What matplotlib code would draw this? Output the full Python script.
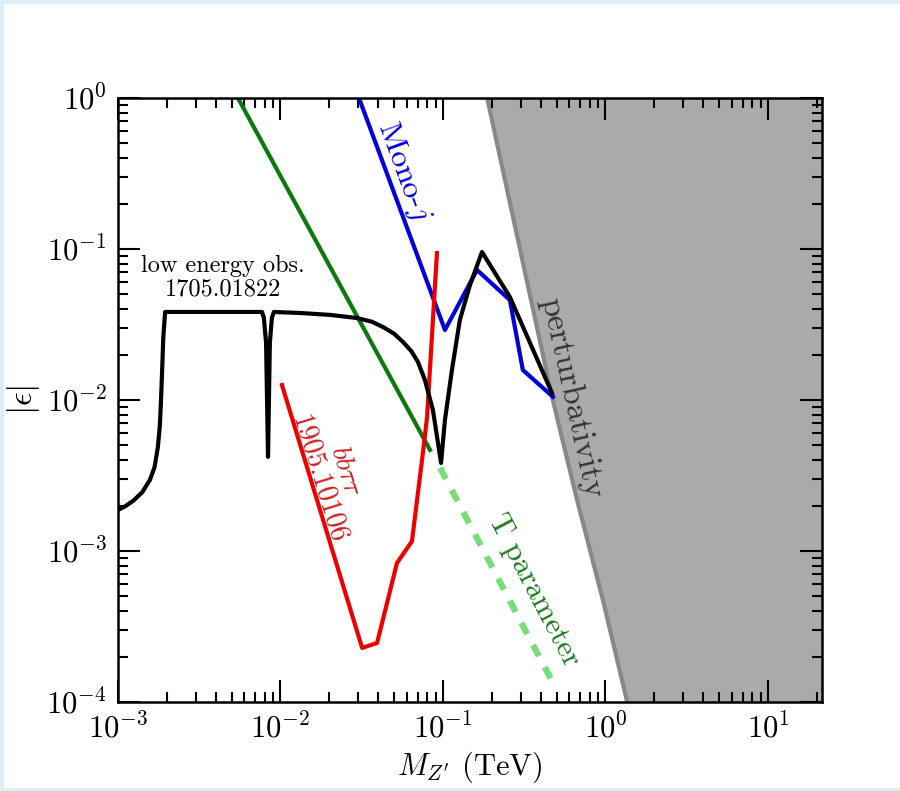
import numpy as np
import matplotlib
matplotlib.use("Agg")
from matplotlib import pyplot as plt
from matplotlib.patches import Rectangle
from matplotlib.ticker import LogLocator, NullFormatter

plt.rcParams['font.family'] = 'serif'
plt.rcParams['font.serif'] = ['cmr10', 'DejaVu Serif']
plt.rcParams['mathtext.fontset'] = 'cm'
plt.rcParams['axes.formatter.use_mathtext'] = True

# low energy observables (1705.01822)
low_mass = [0.001, 0.00111, 0.00124, 0.00141, 0.00157, 0.00168, 0.00176, 0.00181,
            0.00184, 0.00187, 0.0019, 0.00195, 0.0025, 0.0077, 0.0079, 0.00815,
            0.00838, 0.0086, 0.00885, 0.0091, 0.0095, 0.0132, 0.0202, 0.0296,
            0.0365, 0.0428, 0.0500, 0.0568, 0.0640, 0.0701, 0.0774, 0.0867,
            0.0973, 0.1028, 0.1135, 0.127, 0.1466, 0.1738, 0.258, 0.469]
low_eps = [1.87e-3, 1.98e-3, 2.15e-3, 2.45e-3, 2.95e-3, 3.6e-3, 4.89e-3, 6.8e-3,
           1.0e-2, 1.6e-2, 2.6e-2, 3.83e-2, 3.83e-2, 3.83e-2, 3.5e-2, 2.4e-2,
           4.2e-3, 2.4e-2, 3.5e-2, 3.83e-2, 3.82e-2, 3.77e-2, 3.66e-2, 3.49e-2,
           3.3e-2, 3.04e-2, 2.75e-2, 2.42e-2, 2.1e-2, 1.79e-2, 1.356e-2, 8.59e-3,
           3.83e-3, 7.37e-3, 1.58e-2, 3.39e-2, 5.78e-2, 9.55e-2, 4.81e-2, 1.11e-2]

# mono-jet
mono_mass = [0.0304, 0.1028, 0.162, 0.258, 0.310, 0.475]
mono_eps = [1.0, 0.0291, 0.0726, 0.0459, 0.0158, 0.0105]

# bb tau tau (1905.10106)
bbtt_mass = [0.01021, 0.0318, 0.0393, 0.0521, 0.0644, 0.0743, 0.0798, 0.0918]
bbtt_eps = [0.01257, 2.28e-4, 2.46e-4, 8.33e-4, 1.16e-3, 4.0e-3, 7.7e-3, 0.094]

# T parameter
tpar_mass = [0.00547, 0.0832]
tpar_eps = [1.0, 0.00467]
tpar_dash_mass = [0.096, 0.489]
tpar_dash_eps = [0.00355, 1.26e-4]

# perturbativity boundary
pert_mass = [0.187, 0.469, 0.668, 0.966, 1.36]
pert_eps = [1.0, 0.0105, 0.00218, 4.7e-4, 1.0e-4]

fig = plt.figure(figsize=(9, 7.91), dpi=100, facecolor='#ddeef8')
fig.patches.append(Rectangle((4 / 900, 3 / 791), 1, 784 / 791, transform=fig.transFigure,
                             facecolor='white', edgecolor='none', zorder=-10))
ax = fig.add_axes([118 / 900, 89 / 791, 704 / 900, 604 / 791])
ax.set_xscale('log')
ax.set_yscale('log')
ax.set_xlim(1e-3, 21.5)
ax.set_ylim(1e-4, 1)

ax.fill_betweenx(pert_eps, pert_mass, 30, color='#aaaaaa', lw=0, zorder=1)
ax.plot(pert_mass, pert_eps, color='#888888', lw=3, zorder=1)

ax.plot(tpar_mass, tpar_eps, color='#0b7a0b', lw=3, zorder=3)
ax.plot(tpar_dash_mass, tpar_dash_eps, color='#77dd77', lw=4.5, ls=(0, (2, 2)), zorder=3)
ax.plot(mono_mass, mono_eps, color='#0000dd', lw=3, zorder=3)
ax.plot(bbtt_mass, bbtt_eps, color='#ee0000', lw=3, zorder=4)
ax.plot(low_mass, low_eps, color='black', lw=3, zorder=5)

ax.text(0.00443, 0.0643, 'low energy obs.\n1705.01822', ha='center', va='center',
        fontsize=17.5, linespacing=1.1)
ax.text(0.057, 0.3236, 'Mono-$j$', color='#0000dd', rotation=-70, ha='center', va='center',
        rotation_mode='anchor', fontsize=23)
ax.text(0.622, 0.0103, 'perturbativity', color='#333333', rotation=-77.5, ha='center',
        va='center', rotation_mode='anchor', fontsize=24)
ax.text(0.0207, 3.18e-3, r'$bb\tau\tau$' + '\n1905.10106', color='#cc1f1f', rotation=-72.7,
        ha='center', va='center', rotation_mode='anchor', fontsize=20, linespacing=1.1)
ax.text(0.363, 5.52e-4, 'T parameter', color='#1a7a1a', rotation=-62.5, ha='center',
        va='center', rotation_mode='anchor', fontsize=22)

ax.set_xlabel(r"$M_{Z'}$ (TeV)", fontsize=22, labelpad=4)
ax.set_ylabel(r'$|\epsilon|$', fontsize=24, labelpad=3)

ax.xaxis.set_major_locator(LogLocator(base=10, numticks=100))
ax.yaxis.set_major_locator(LogLocator(base=10, numticks=100))
ax.xaxis.set_minor_locator(LogLocator(base=10, subs=np.arange(2, 10), numticks=100))
ax.yaxis.set_minor_locator(LogLocator(base=10, subs=np.arange(2, 10), numticks=100))
ax.xaxis.set_minor_formatter(NullFormatter())
ax.yaxis.set_minor_formatter(NullFormatter())
ax.tick_params(which='both', direction='in', top=True, right=True, labelsize=22)
ax.tick_params(which='major', length=16, width=1.5, pad=8)
ax.tick_params(which='minor', length=7, width=1.5)
for s in ax.spines.values():
    s.set_linewidth(1.8)
    s.set_zorder(10)

fig.savefig('out.png', dpi=100, facecolor=fig.get_facecolor())
